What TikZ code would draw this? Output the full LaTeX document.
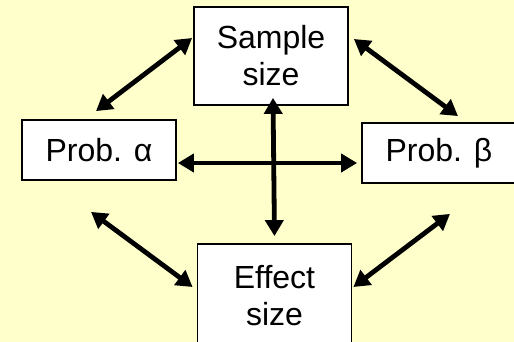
\documentclass[tikz,border=0pt]{standalone}
\usepackage{fontspec}
\setmainfont{Liberation Sans}
\usepackage{xcolor}
\usepackage{tikz}
\usetikzlibrary{arrows.meta}

\definecolor{paleyellow}{HTML}{FFFFCC}

\begin{document}
\begin{tikzpicture}[
    x=1pt, y=1pt,
    box/.style={draw, line width=1.8pt, fill=white, align=center, inner sep=0pt,
                font=\fontsize{32}{37}\selectfont},
    tall/.style={box, minimum width=154pt, minimum height=98pt},
    flat/.style={box, minimum width=154pt, minimum height=60pt},
    line/.style={{Triangle[length=16pt,width=18pt]}-{Triangle[length=16pt,width=18pt]}, line width=4.8pt}
]
\fill[paleyellow] (0,0) rectangle (514,342);
\useasboundingbox (0,0) rectangle (514,342);

\node[tall] (sample) at (271,286)   {Sample\\size};
\node[flat] (alpha)  at (99,192)    {Prob. α};
\node[flat] (beta)   at (439,189)   {Prob. β};
\node[tall, minimum height=104pt] (effect) at (274.5,46) {Effect\\size};

\draw[line] ([shift={(-1,18)}]sample.west)  -- ([shift={(-3,8)}]alpha.north);
\draw[line] ([shift={(5,17)}]sample.east)   -- ([shift={(19,6)}]beta.north);
\draw[line] ([shift={(-8,-31)}]alpha.south) -- ([shift={(-4,9)}]effect.west);
\draw[line] ([shift={(11,-30)}]beta.south)  -- ([shift={(1,9)}]effect.east);
\draw[line] ([shift={(1,-13)}]alpha.east)   -- ([shift={(-4,-10)}]beta.west);
\draw[line] ([shift={(2,8)}]sample.south)   -- ([shift={(0,7)}]effect.north);
\end{tikzpicture}
\end{document}
